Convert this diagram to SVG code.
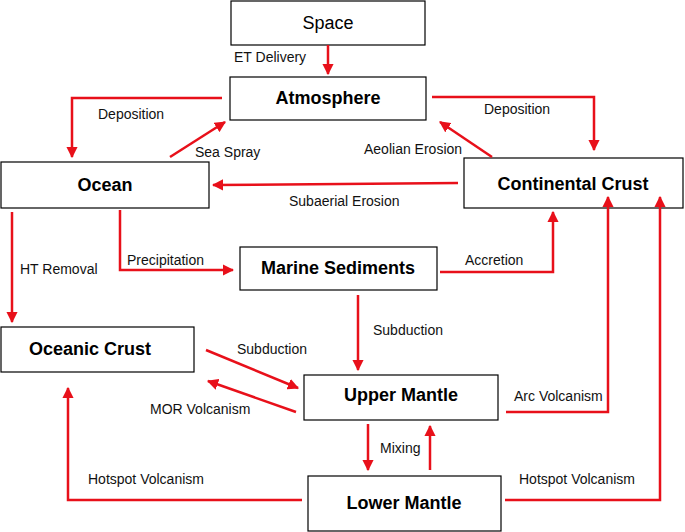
<svg xmlns="http://www.w3.org/2000/svg" width="685" height="532" viewBox="0 0 685 532">
<style>
.n rect{fill:#fff;stroke:#000;stroke-width:1.2}
.n text{font-family:"Liberation Sans",Arial,sans-serif;font-size:18px;font-weight:bold;text-anchor:middle}
.c path{fill:none;stroke:#e8101a;stroke-width:2.5;marker-end:url(#a)}
.l{font-family:"Liberation Sans",Arial,sans-serif;font-size:14px;fill:#111}
</style>
<defs><marker id="a" viewBox="0 0 10 10" refX="9" refY="5" markerWidth="4.5" markerHeight="4.5" orient="auto" markerUnits="strokeWidth"><path d="M0,0L10,5L0,10z" fill="#e8101a"/></marker></defs>
<rect width="685" height="532" fill="#fff"/>
<g class="n" id="space"><rect x="231" y="1" width="194" height="44"/><text x="328" y="29" style="font-weight:normal">Space</text></g>
<g class="n" id="atmosphere"><rect x="230" y="77" width="196" height="43"/><text x="328" y="104">Atmosphere</text></g>
<g class="n" id="ocean"><rect x="1" y="162" width="208" height="46"/><text x="105" y="191">Ocean</text></g>
<g class="n" id="continental"><rect x="464" y="158" width="219" height="50"/><text x="573" y="190">Continental Crust</text></g>
<g class="n" id="marine"><rect x="240" y="247" width="197" height="43"/><text x="338" y="274">Marine Sediments</text></g>
<g class="n" id="oceanic"><rect x="1" y="327" width="193" height="45"/><text x="90" y="355">Oceanic Crust</text></g>
<g class="n" id="upper"><rect x="304" y="375" width="194" height="45"/><text x="401" y="401">Upper Mantle</text></g>
<g class="n" id="lower"><rect x="308" y="476" width="193" height="55"/><text x="404" y="509">Lower Mantle</text></g>
<g class="c">
<path d="M328,45V74"/>
<path d="M222,98H72V157"/>
<path d="M432,97H594V150"/>
<path d="M170,157L225,122"/>
<path d="M492,157L440,122"/>
<path d="M458,183L213,185"/>
<path d="M12,212V322"/>
<path d="M120,210V270H233"/>
<path d="M440,272H553V212"/>
<path d="M358,295V370"/>
<path d="M206,350L298,388"/>
<path d="M296,412L208,381"/>
<path d="M506,412H608V197"/>
<path d="M368,424V470"/>
<path d="M430,470V426"/>
<path d="M302,500H68V388"/>
<path d="M505,500H660V197"/>
</g>
<g class="l">
<text x="234" y="62">ET Delivery</text>
<text x="98" y="119">Deposition</text>
<text x="484" y="114">Deposition</text>
<text x="195" y="157">Sea Spray</text>
<text x="364" y="154">Aeolian Erosion</text>
<text x="289" y="206">Subaerial  Erosion</text>
<text x="20" y="274">HT Removal</text>
<text x="127" y="265">Precipitation</text>
<text x="465" y="265">Accretion</text>
<text x="373" y="335">Subduction</text>
<text x="237" y="354">Subduction</text>
<text x="150" y="414">MOR Volcanism</text>
<text x="514" y="401">Arc Volcanism</text>
<text x="380" y="453">Mixing</text>
<text x="88" y="484">Hotspot Volcanism</text>
<text x="519" y="484">Hotspot Volcanism</text>
</g>
</svg>
